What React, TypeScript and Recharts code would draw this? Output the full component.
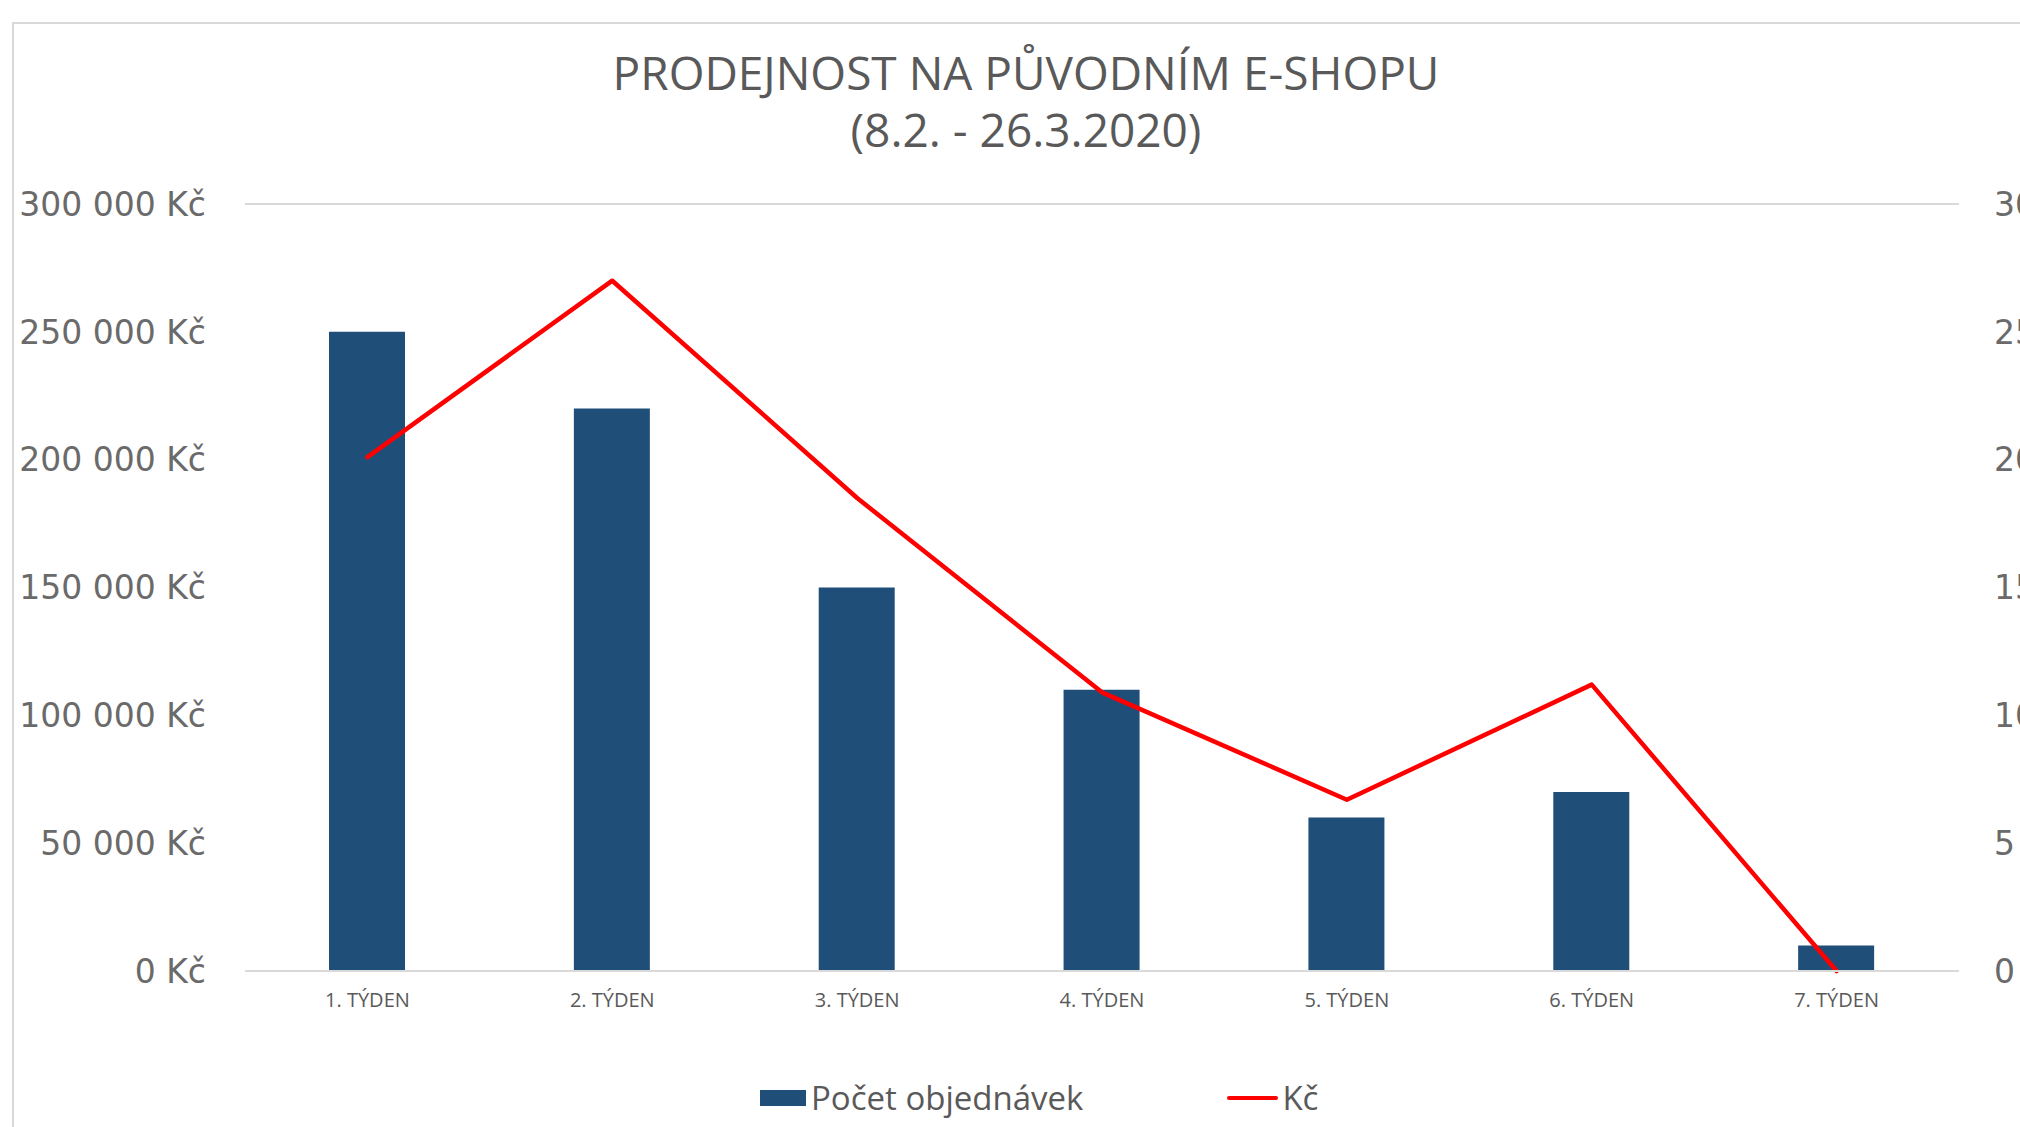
import React from 'react';
import { ComposedChart, Bar, Line, XAxis, YAxis, CartesianGrid } from 'recharts';

const weeks = ['1. TÝDEN', '2. TÝDEN', '3. TÝDEN', '4. TÝDEN', '5. TÝDEN', '6. TÝDEN', '7. TÝDEN'];
const orders = [25, 22, 15, 11, 6, 7, 1];
const revenue = [201000, 270000, 185000, 109000, 67000, 112000, 0];
const kcTicks = [0, 50000, 100000, 150000, 200000, 250000, 300000];
const countTicks = [0, 5, 10, 15, 20, 25, 30];

const data = weeks.map((w, i) => ({ week: w, orders: orders[i], revenue: revenue[i] }));

const fmtKc = (v: number) => {
  const s = String(Math.round(v)).replace(/\B(?=(\d{3})+(?!\d))/g, ' ');
  return `${s} Kč`;
};

const TEXT = '#595959';
const AXIS_TEXT = '#6a6a6a';
const GRID = '#d9d9d9';
const BAR = '#1f4e79';
const LINE = '#ff0000';

export default function App() {
  return (
    <div style={{ position: 'absolute', left: 0, top: 0, width: 2020, height: 1127, overflow: 'hidden', background: '#fff' }}>
      <div style={{ position: 'absolute', left: 12, top: 22, width: 2100, height: 1200, border: `2px solid ${GRID}` }} />
      <div style={{ position: 'absolute', left: 0, width: 2052, top: 44, textAlign: 'center', fontFamily: '"Open Sans", sans-serif', fontWeight: 400, color: TEXT, fontSize: 46, lineHeight: '57px' }}>
        <div>PRODEJNOST NA PŮVODNÍM E-SHOPU</div>
        <div>(8.2. - 26.3.2020)</div>
      </div>
      <div style={{ position: 'absolute', left: 0, top: 0 }}>
        <ComposedChart
          width={2020}
          height={1127}
          data={data}
          margin={{ top: 204, right: 0, bottom: 100, left: 0 }}
          barCategoryGap="34.5%"
        >
          <CartesianGrid vertical={false} stroke={GRID} strokeWidth={2} />
          <XAxis
            dataKey="week"
            axisLine={{ stroke: GRID, strokeWidth: 2 }}
            tickLine={false}
            tickMargin={16}
            height={56}
            interval={0}
            tick={{ fill: TEXT, fontSize: 20, fontFamily: '"Open Sans", sans-serif' }}
          />
          <YAxis
            yAxisId="kc"
            orientation="left"
            width={245}
            domain={[0, 300000]}
            ticks={kcTicks}
            tickFormatter={fmtKc}
            axisLine={false}
            tickLine={false}
            tickMargin={33}
            tick={{ fill: AXIS_TEXT, fontSize: 33, fontFamily: '"DejaVu Sans", sans-serif' }}
          />
          <YAxis
            yAxisId="cnt"
            orientation="right"
            width={61}
            domain={[0, 30]}
            ticks={countTicks}
            axisLine={false}
            tickLine={false}
            tickMargin={29}
            tick={{ fill: AXIS_TEXT, fontSize: 33, fontFamily: '"DejaVu Sans", sans-serif', textAnchor: 'start' }}
          />
          <Bar yAxisId="cnt" dataKey="orders" name="Počet objednávek" fill={BAR} barSize={76} isAnimationActive={false} />
          <Line yAxisId="kc" dataKey="revenue" name="Kč" stroke={LINE} strokeWidth={4.5} dot={false} strokeLinecap="round" strokeLinejoin="round" isAnimationActive={false} />
        </ComposedChart>
      </div>
      <div style={{ position: 'absolute', top: 1077, left: 760, display: 'flex', alignItems: 'center', fontFamily: '"Open Sans", sans-serif', color: TEXT, fontSize: 33, lineHeight: '42px' }}>
        <span style={{ display: 'inline-block', width: 46, height: 16, background: BAR, marginRight: 5 }} />
        <span>Počet objednávek</span>
        <span style={{ display: 'inline-block', width: 51, height: 4, background: LINE, borderRadius: 2, marginLeft: 144, marginRight: 4 }} />
        <span>Kč</span>
      </div>
    </div>
  );
}
